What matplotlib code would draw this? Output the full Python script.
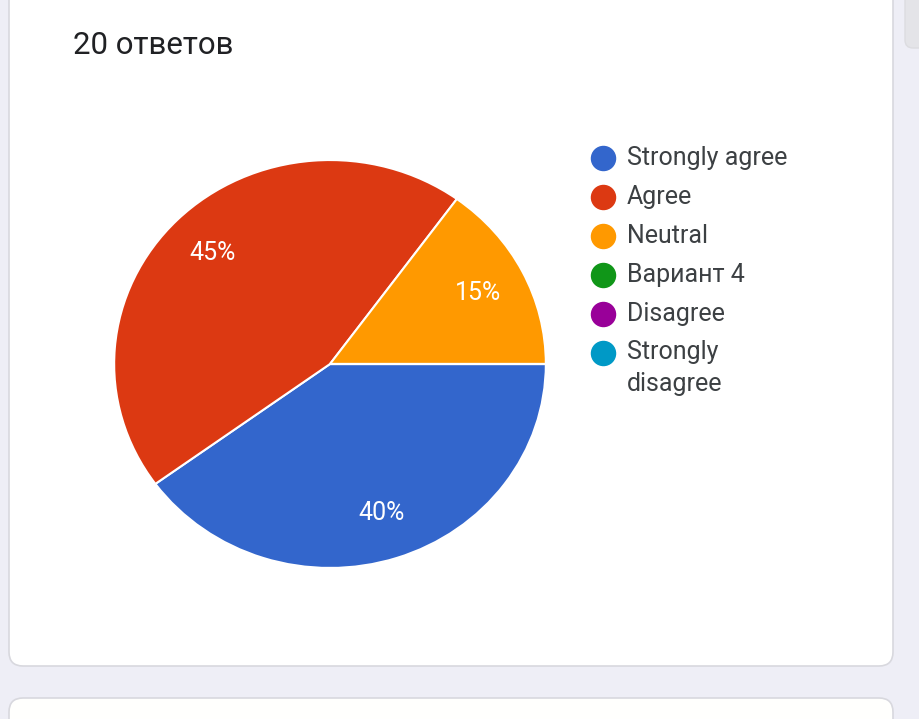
import matplotlib.pyplot as plt
from matplotlib.patches import FancyBboxPatch

plt.rcParams['font.family'] = ['Roboto', 'DejaVu Sans']

# данные опроса
labels = ['Strongly agree', 'Agree', 'Neutral', 'Вариант 4', 'Disagree', 'Strongly\ndisagree']
counts = [8, 9, 3, 0, 0, 0]
colors = ['#3366cc', '#dc3912', '#ff9900', '#109618', '#990099', '#0099c6']
title = '20 ответов'

W, H = 920, 719
fig = plt.figure(figsize=(W / 100, H / 100), dpi=100)
fig.patch.set_facecolor('#eeeef6')

# фон с карточками (пиксельные координаты)
bg = fig.add_axes([0, 0, 1, 1])
bg.set_xlim(0, W)
bg.set_ylim(H, 0)
bg.axis('off')
bg.add_patch(FancyBboxPatch((9, -40), 884, 706, boxstyle='round,pad=0,rounding_size=14',
                            fc='white', ec='#d8d8de', lw=1.2))
bg.add_patch(FancyBboxPatch((9, 698), 884, 60, boxstyle='round,pad=0,rounding_size=14',
                            fc='#fffffd', ec='#d8d8de', lw=1.2))
bg.add_patch(FancyBboxPatch((905, -20), 30, 68, boxstyle='round,pad=0,rounding_size=8',
                            fc='#e4e4e8', ec='#dcdce0', lw=1))
bg.text(73, 46, title, fontsize=22.5, color='#202124', va='center', ha='left')

# легенда
y = 158
for lab, col in zip(labels, colors):
    bg.scatter(603, y, s=300, color=col, zorder=3)
    if '\n' in lab:
        bg.text(627, y - 13, lab, fontsize=18, color='#3c4043', va='top', ha='left',
                linespacing=1.4)
    else:
        bg.text(627, y, lab, fontsize=18, color='#3c4043', va='center', ha='left')
    y += 39

# круговая диаграмма
ax = fig.add_axes([112 / W, 1 - 570 / H, 436 / W, 412 / H])
ax.pie(counts, colors=colors, startangle=0, counterclock=False, radius=1,
       autopct=lambda p: f'{p:.0f}%' if p > 0 else '', pctdistance=0.77,
       wedgeprops=dict(edgecolor='white', linewidth=1.5),
       textprops=dict(color='white', fontsize=18))
ax.set_aspect('auto')
ax.set_xlim(-1.01, 1.01)
ax.set_ylim(-1.01, 1.01)

fig.savefig('out.png', dpi=100, facecolor=fig.get_facecolor())
